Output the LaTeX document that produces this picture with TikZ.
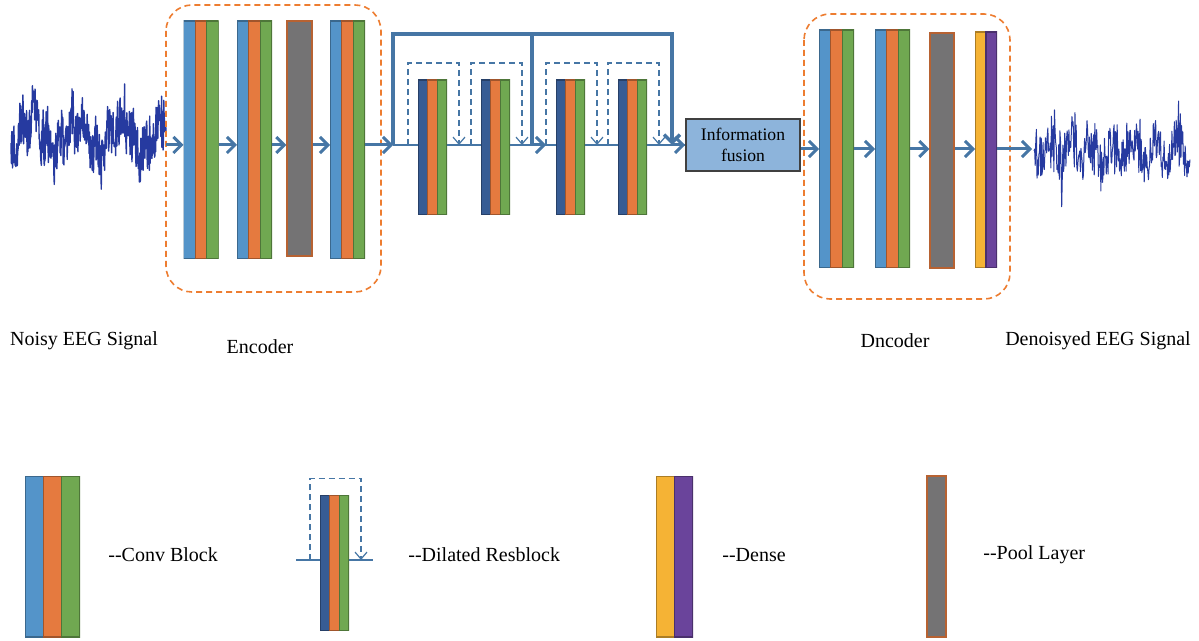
\documentclass[tikz,border=0pt]{standalone}
\usepackage{fontspec}
\setmainfont{Liberation Serif}
\usetikzlibrary{arrows.meta,calc}

\definecolor{cblue}{RGB}{84,148,201}
\definecolor{corange}{RGB}{229,122,63}
\definecolor{cgreen}{RGB}{112,168,81}
\definecolor{cgrey}{RGB}{116,115,116}
\definecolor{cnavy}{RGB}{55,92,148}
\definecolor{cyellow}{RGB}{245,179,53}
\definecolor{cpurple}{RGB}{106,68,155}
\definecolor{arrblue}{RGB}{70,118,165}
\definecolor{eegblue}{RGB}{38,58,160}
\definecolor{fusblue}{RGB}{141,180,219}
\definecolor{grporange}{RGB}{237,125,49}

\begin{document}
\begin{tikzpicture}[x=0.5pt,y=-0.5pt,
    stripes/.style 2 args={inner sep=0pt, outer sep=0pt, path picture={
        \foreach \c [count=\i from 0] in {#1}
            \filldraw[fill=\c, draw=\c!70!black, line width=0.6pt]
            ($(path picture bounding box.south west)!{\i/#2}!(path picture bounding box.south east)$)
            rectangle ($(path picture bounding box.north west)!{(\i+1)/#2}!(path picture bounding box.north east)$);}},
    conv/.style={stripes={cblue,corange,cgreen}{3}, minimum width=17.5pt, minimum height=119pt},
    dil/.style={stripes={cnavy,corange,cgreen}{3}, minimum width=14.5pt, minimum height=67.5pt},
    dense/.style={stripes={cyellow,cpurple}{2}, minimum width=11pt, minimum height=118pt},
    pool/.style={inner sep=0pt, fill=cgrey, draw=corange!80!black, line width=0.6pt, minimum width=12.5pt, minimum height=117.5pt},
    arr/.style={draw=arrblue, line width=1.5pt, -{Straight Barb[length=4pt,width=8pt]}},
    bskip/.style={draw=arrblue, line width=1.7pt},
    mline/.style={draw=arrblue, line width=0.7pt},
    dskip/.style={draw=arrblue, line width=0.6pt, dash pattern=on 3pt off 2pt, -{Straight Barb[length=3.5pt,width=6pt]}},
    grp/.style={draw=grporange, line width=0.8pt, dash pattern=on 3pt off 2pt, rounded corners=13pt},
    fusion/.style={draw=black!75, fill=fusblue, line width=0.8pt, minimum width=57pt, minimum height=26pt, inner sep=0pt, align=center, font=\fontsize{8.8}{10.5}\selectfont},
    lbl/.style={font=\fontsize{10}{12}\selectfont, inner sep=0pt},
    eeg/.style={draw=eegblue, line width=0.7pt, line join=round}]

    \useasboundingbox (0,0) rectangle (1199,641);

    \pgfmathsetseed{12}
    \draw[eeg] plot[domain=11:166, samples=420] (\x, {135 + 16*sin(8*\x+20) + 10*sin(29*\x) + 24*rand + 30*rand*rand*rand});
    \draw[eeg, line width=0.5pt] plot[domain=1034:1190, samples=260] (\x, {150 + 10*sin(17*(\x-1034)) + 22*rand + 60*rand*rand*rand});

    \coordinate (inp) at (166,145);
    \coordinate (m0) at (393,145);
    \coordinate (m1) at (532,145);
    \coordinate (m2) at (672,145);
    \coordinate (s) at (0,34);
    \coordinate (outp) at (1032,149);

    \draw[grp] (166,5) rectangle (381,292);
    \draw[grp] (804,14) rectangle (1010,299);

    \node[conv] (e1) at (201,140) {};
    \node[conv] (e2) at (254.5,140) {};
    \node[pool] (p1) at (299.5,138.5) {};
    \node[conv] (e4) at (347.5,140) {};

    \node[dil] (d1) at (432.5,147.5) {};
    \node[dil] (d2) at (495.5,147.5) {};
    \node[dil] (d3) at (570.5,147.5) {};
    \node[dil] (d4) at (632.5,147.5) {};

    \node[fusion] (fus) at (743,145) {Information\\fusion};

    \node[conv] (c1) at (836.5,149) {};
    \node[conv] (c2) at (892.5,149) {};
    \node[pool, minimum width=12pt] (p2) at (942,150.5) {};
    \node[dense] (den) at (986,150) {};

    \draw[arr] (inp) -- (e1.west|-inp);
    \foreach \a/\b in {e1/e2, e2/p1, p1/e4}
        \draw[arr] (\a.east|-inp) -- (\b.west|-inp);
    \draw[arr] (e4.east|-inp) -- (m0);

    \draw[mline] (m0) -- (d1.west|-m0);
    \foreach \a/\b in {d1/d2, d2/d3, d3/d4}
        \draw[mline] (\a.east|-m0) -- (\b.west|-m0);
    \draw[mline] (d4.east|-m0) -- (fus.west);

    \draw[bskip] (m0) -- (m0|-s) -| (m1);
    \draw[bskip, -{Straight Barb[length=4pt,width=8pt]}] (m1) -- (m1|-s) -| (m2);
    \draw[arr] (m1) -- ([xshift=-5pt]d3.west|-m1);
    \draw[arr] (m2) -- (fus.west);

    \draw[arr] (fus.east|-c1) -- (c1.west);
    \foreach \a/\b in {c1/c2, c2/p2, p2/den}
        \draw[arr] (\a.east|-c1) -- (\b.west|-c1);
    \draw[arr] (den.east|-c1) -- (outp);

    \node[lbl] (noisy) at (84,341) {Noisy EEG Signal};
    \node[lbl] (enc) at (260,347) {Encoder};
    \node[lbl] (dec) at (895,341) {Dncoder};
    \node[lbl] (clean) at (1098,341) {Denoisyed EEG Signal};

    \coordinate (lm) at (296,560);
    \coordinate (lm2) at (373,560);
    \node[conv, minimum width=27.5pt, minimum height=80.5pt] (lconv) at (52.5,556.5) {};
    \node[dil] (ld) at (334.5,563) {};
    \node[dense, minimum width=18.5pt, minimum height=80.5pt] (lden) at (674.5,556.5) {};
    \node[pool, minimum width=9.5pt, minimum height=80.5pt] (lpool) at (936.5,556.5) {};

    \draw[mline] (lm) -- (ld.west|-lm);
    \draw[mline] (ld.east|-lm) -- (lm2);

    \foreach \d/\r in {d1/m0, d2/m0, d3/m0, d4/m0, ld/lm}
        \draw[dskip] ([xshift=-5pt]\d.west|-\r) |- ([yshift=8.5pt]\d.north) -| ([xshift=6pt]\d.east|-\r);

    \node[lbl, anchor=west] (lconvt) at (108,555) {-{}-Conv Block};
    \node[lbl, anchor=west] (ldt) at (408,555) {-{}-Dilated Resblock};
    \node[lbl, anchor=west] (ldent) at (722,555) {-{}-Dense};
    \node[lbl, anchor=west] (lpoolt) at (983,555) {-{}-Pool Layer};

\end{tikzpicture}
\end{document}
